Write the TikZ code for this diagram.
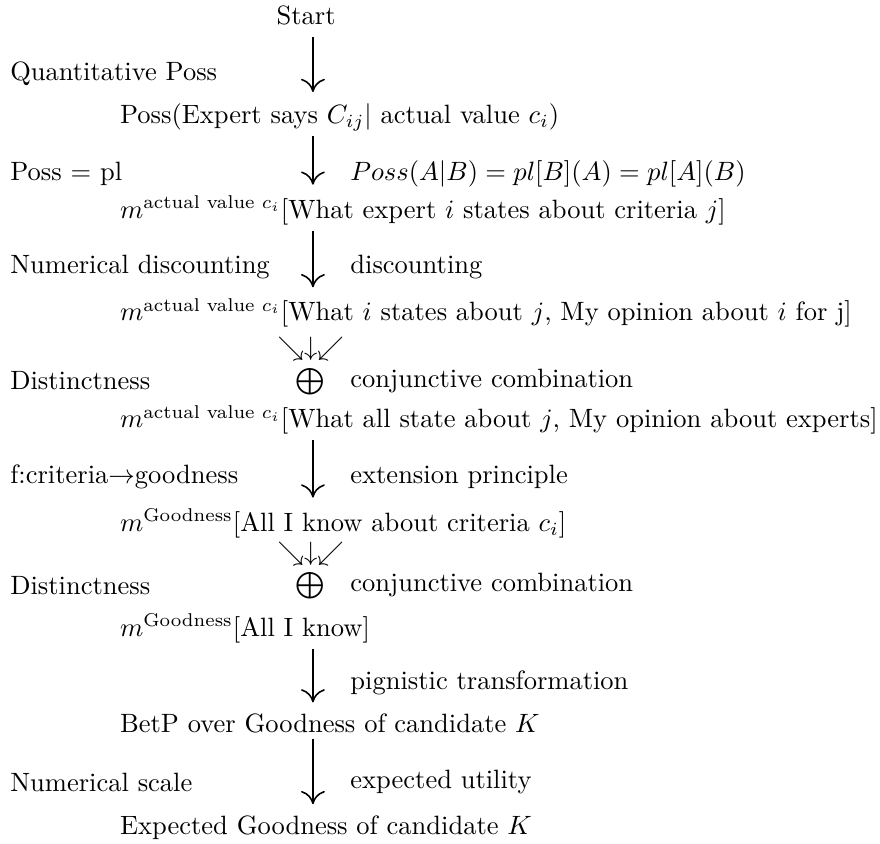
\documentclass[tikz,border=0pt]{standalone}
\usepackage{amsmath}
\usepackage{amssymb}
\usetikzlibrary{
    arrows.meta,
    positioning
}
\tikzstyle{flow} = [
    -{Computer Modern Rightarrow[length=5pt, width=9pt]},
    line width=0.6pt,
    shorten <=1pt,
    shorten >=3pt
]
\tikzstyle{rule} = [
    anchor=west,
    inner sep=0pt
]
\tikzstyle{state} = [
    anchor=west,
    inner sep=1pt
]

\begin{document}
\begin{tikzpicture}
        \useasboundingbox (0,0) rectangle (11.67,-11.19);
        % Column of the arrows
        \coordinate (axis) at (4.15,0);

        % Start
        \node (start) at (4.06,-0.20) {Start};
        \node[rule] (quant) at (0.13,-0.98) {Quantitative Poss};
        \node[state] (possexp) at (1.55,-1.55) {Poss(Expert says $C_{ij}|$ actual value $c_i$)};
        \draw[flow] (start.south -| axis) -- (possexp.north -| axis);

        % Poss = pl
        \node[rule] (posspl) at (0.13,-2.31) {Poss $=$ pl};
        \node[rule] (plrule) at (4.64,-2.31) {$Poss(A|B)=pl[B](A)=pl[A](B)$};
        \node[state] (mexp) at (1.55,-2.79) {$m^{\text{actual value }c_i}$[What expert $i$ states about criteria $j$]};
        \draw[flow] (possexp.south -| axis) -- (mexp.north -| axis);

        % Discounting
        \node[rule] (numdisc) at (0.13,-3.54) {Numerical discounting};
        \node[rule] (disc) at (4.64,-3.54) {discounting};
        \node[state] (mdisc) at (1.55,-4.15) {$m^{\text{actual value }c_i}$[What $i$ states about $j$, My opinion about $i$ for j]};
        \draw[flow] (mexp.south -| axis) -- (mdisc.north -| axis);

        % First combination
        \node[inner sep=0pt] (merge1) at (4.12,-4.62) {$\searrow\downarrow\swarrow$};
        \node[rule] (dist1) at (0.13,-5.05) {Distinctness};
        \node[inner sep=0pt] (comb1) at (4.12,-5.06) {$\bigoplus$};
        \node[rule] (conj1) at (4.64,-5.05) {conjunctive combination};
        \node[state] (mall) at (1.55,-5.57) {$m^{\text{actual value }c_i}$[What all state about $j$, My opinion about experts]};

        % Extension principle
        \node[rule] (fcrit) at (0.13,-6.33) {f:criteria$\rightarrow$goodness};
        \node[rule] (ext) at (4.64,-6.33) {extension principle};
        \node[state] (mcrit) at (1.55,-6.94) {$m^{\text{Goodness}}$[All I know about criteria $c_i$]};
        \draw[flow] (mall.south -| axis) -- (mcrit.north -| axis);

        % Second combination
        \node[inner sep=0pt] (merge2) at (4.12,-7.34) {$\searrow\downarrow\swarrow$};
        \node[rule] (dist2) at (0.13,-7.76) {Distinctness};
        \node[inner sep=0pt] (comb2) at (4.12,-7.77) {$\bigoplus$};
        \node[rule] (conj2) at (4.64,-7.76) {conjunctive combination};
        \node[state] (mknow) at (1.55,-8.33) {$m^{\text{Goodness}}$[All I know]};

        % Pignistic transformation
        \node[rule] (pign) at (4.64,-9.06) {pignistic transformation};
        \node[state] (betp) at (1.55,-9.59) {BetP over Goodness of candidate $K$};
        \draw[flow] (mknow.south -| axis) -- (betp.north -| axis);

        % Expected utility
        \node[rule] (numscale) at (0.13,-10.37) {Numerical scale};
        \node[rule] (util) at (4.64,-10.37) {expected utility};
        \node[state] (expgood) at (1.55,-10.97) {Expected Goodness of candidate $K$};
        \draw[flow] (betp.south -| axis) -- (expgood.north -| axis);
    \end{tikzpicture}
\end{document}
